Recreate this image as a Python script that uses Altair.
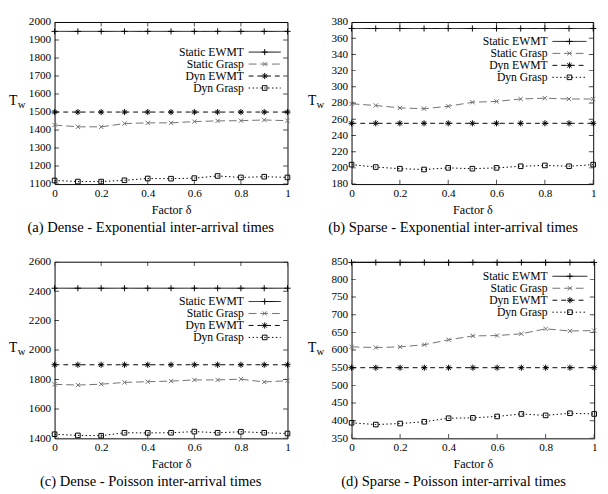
import altair as alt
import pandas as pd

FONT = "Liberation Serif"

delta = [0.0, 0.1, 0.2, 0.3, 0.4, 0.5, 0.6, 0.7, 0.8, 0.9, 1.0]
series = ["Static EWMT", "Static Grasp", "Dyn EWMT", "Dyn Grasp"]
x_ticks = [0, 0.2, 0.4, 0.6, 0.8, 1.0]

# (a) Dense - Exponential
a_static_ewmt = [1948, 1948, 1948, 1948, 1948, 1948, 1948, 1948, 1948, 1948, 1948]
a_static_grasp = [1428, 1418, 1418, 1436, 1440, 1440, 1447, 1451, 1452, 1456, 1452]
a_dyn_ewmt = [1500, 1500, 1500, 1500, 1500, 1500, 1500, 1500, 1500, 1500, 1500]
a_dyn_grasp = [1120, 1114, 1114, 1121, 1131, 1130, 1133, 1145, 1137, 1141, 1137]
a_yticks = [1100, 1200, 1300, 1400, 1500, 1600, 1700, 1800, 1900, 2000]

# (b) Sparse - Exponential
b_static_ewmt = [372, 372, 372, 372, 372, 372, 372, 372, 372, 372, 372]
b_static_grasp = [279, 277, 274, 273, 276, 281, 282, 285, 286, 285, 285]
b_dyn_ewmt = [255, 255, 255, 255, 255, 255, 255, 255, 255, 255, 255]
b_dyn_grasp = [204, 201, 199, 198, 200, 199, 200, 202, 203, 202, 204]
b_yticks = [180, 200, 220, 240, 260, 280, 300, 320, 340, 360, 380]

# (c) Dense - Poisson
c_static_ewmt = [2420, 2420, 2420, 2420, 2420, 2420, 2420, 2420, 2420, 2420, 2420]
c_static_grasp = [1767, 1762, 1768, 1780, 1785, 1789, 1797, 1797, 1802, 1783, 1792]
c_dyn_ewmt = [1900, 1900, 1900, 1900, 1900, 1900, 1900, 1900, 1900, 1900, 1900]
c_dyn_grasp = [1428, 1420, 1418, 1438, 1437, 1438, 1446, 1438, 1445, 1438, 1433]
c_yticks = [1400, 1600, 1800, 2000, 2200, 2400, 2600]

# (d) Sparse - Poisson
d_static_ewmt = [848, 848, 848, 848, 848, 848, 848, 848, 848, 848, 848]
d_static_grasp = [609, 607, 609, 615, 629, 640, 641, 646, 660, 654, 655]
d_dyn_ewmt = [550, 550, 550, 550, 550, 550, 550, 550, 550, 550, 550]
d_dyn_grasp = [394, 389, 392, 397, 407, 408, 412, 419, 415, 421, 419]
d_yticks = [350, 400, 450, 500, 550, 600, 650, 700, 750, 800, 850]

SHAPES = [
    "M-1,0L1,0M0,-1L0,1",
    "M-0.7,-0.7L0.7,0.7M-0.7,0.7L0.7,-0.7",
    "M-1,0L1,0M0,-1L0,1M-0.7,-0.7L0.7,0.7M-0.7,0.7L0.7,-0.7",
    "M-0.75,-0.75L0.75,-0.75L0.75,0.75L-0.75,0.75Z",
]
DASHES = [[1, 0], [8, 4], [5, 4], [1.5, 2.5]]
MSIZE = 40


def panel(values, ydom, yticks, W, H, tx, leg_top, leg_right, caption, grasp_color):
    rows = []
    for s, vals in zip(series, values):
        for d, v in zip(delta, vals):
            rows.append({"delta": d, "series": s, "value": v})
    df = pd.DataFrame(rows)

    color = alt.Color("series:N", scale=alt.Scale(domain=series, range=["black", grasp_color, "black", "black"]), legend=None)
    dash = alt.StrokeDash("series:N", scale=alt.Scale(domain=series, range=DASHES), legend=None)
    shape = alt.Shape("series:N", scale=alt.Scale(domain=series, range=SHAPES), legend=None)

    xdef = alt.X("delta:Q", scale=alt.Scale(domain=[0, 1], nice=False, zero=False),
                 axis=alt.Axis(values=x_ticks, format="~g", title="Factor δ", labelFont=FONT,
                               labelFontSize=11.5, labelPadding=4, ticks=False, tickSize=0,
                               domain=False, grid=False, labelFlush=False, labelColor="black",
                               titleFont=FONT, titleFontSize=12.5, titleFontWeight="normal",
                               titleColor="black", titlePadding=5))
    ydef = alt.Y("value:Q", scale=alt.Scale(domain=ydom, nice=False, zero=False),
                 axis=alt.Axis(values=yticks, format="d", title=None, labelFont=FONT, labelFontSize=11.5,
                               labelPadding=4, ticks=False, tickSize=0, domain=False, grid=False,
                               labelFlush=False, labelColor="black"))

    lines = alt.Chart(df).mark_line(strokeWidth=1, clip=True).encode(
        x=xdef, y=ydef, color=color, strokeDash=dash)
    pts = alt.Chart(df).mark_point(filled=False, strokeWidth=1, size=MSIZE, opacity=1).encode(
        x=xdef, y=ydef, color=color, shape=shape)

    xt = pd.DataFrame({"delta": x_ticks})
    yt = pd.DataFrame({"value": yticks})
    tick_style = dict(clip=True, size=9, thickness=1, color="black")
    xt_bot = alt.Chart(xt).mark_tick(orient="vertical", **tick_style).encode(x=xdef, y=alt.value(H))
    xt_top = alt.Chart(xt).mark_tick(orient="vertical", **tick_style).encode(x=xdef, y=alt.value(0))
    yt_l = alt.Chart(yt).mark_tick(orient="horizontal", **tick_style).encode(y=ydef, x=alt.value(0))
    yt_r = alt.Chart(yt).mark_tick(orient="horizontal", **tick_style).encode(y=ydef, x=alt.value(W))

    t_df = pd.DataFrame({"t": ["T"]})
    w_df = pd.DataFrame({"t": ["w"]})
    t_txt = alt.Chart(t_df).mark_text(font=FONT, fontSize=14, align="left", baseline="alphabetic",
                                      color="black").encode(
        text="t:N", x=alt.value(-tx), y=alt.value(H / 2 + 2))
    w_txt = alt.Chart(w_df).mark_text(font=FONT, fontSize=11, align="left", baseline="alphabetic",
                                      color="black").encode(
        text="t:N", x=alt.value(-tx + 9), y=alt.value(H / 2 + 5))

    main = alt.layer(lines, pts, xt_bot, xt_top, yt_l, yt_r, t_txt, w_txt)

    leg_df = pd.DataFrame({"series": series})
    ly = alt.Y("series:N", sort=series,
               scale=alt.Scale(type="point", domain=series, range=[leg_top, leg_top + 37], padding=0),
               axis=None)
    leg_text = alt.Chart(leg_df).mark_text(font=FONT, fontSize=12, align="right", baseline="middle",
                                           color="black").encode(
        text="series:N", x=alt.value(W - leg_right), y=ly)
    leg_rule = alt.Chart(leg_df).mark_rule(strokeWidth=1).encode(
        x=alt.value(W - leg_right + 5), x2=alt.value(W - 7), y=ly, color=color, strokeDash=dash)
    leg_pt = alt.Chart(leg_df).mark_point(filled=False, strokeWidth=1, size=MSIZE, opacity=1).encode(
        x=alt.value(W - (leg_right + 2) / 2), y=ly, color=color, shape=shape)
    legend = alt.layer(leg_text, leg_rule, leg_pt)

    return alt.layer(main, legend).resolve_scale(y="independent").properties(
        width=W, height=H,
        title=alt.TitleParams(caption, orient="bottom", anchor="middle", frame="bounds", font=FONT,
                              fontSize=15, fontWeight="normal", offset=4, color="black"))


H1 = 167
H2 = 182
pa = panel([a_static_ewmt, a_static_grasp, a_dyn_ewmt, a_dyn_grasp], [1100, 2000], a_yticks,
           240, H1, 47, 31, 45, "(a)  Dense - Exponential inter-arrival times", "#707070")
pb = panel([b_static_ewmt, b_static_grasp, b_dyn_ewmt, b_dyn_grasp], [180, 380], b_yticks,
           249, H1, 45, 20, 47, "(b)  Sparse - Exponential inter-arrival times", "#707070")
pc = panel([c_static_ewmt, c_static_grasp, c_dyn_ewmt, c_dyn_grasp], [1400, 2600], c_yticks,
           240, H2, 47, 41, 45, "(c)  Dense - Poisson inter-arrival times", "#707070")
pd_ = panel([d_static_ewmt, d_static_grasp, d_dyn_ewmt, d_dyn_grasp], [350, 850], d_yticks,
            250, H2, 45, 15, 48, "(d)  Sparse - Poisson inter-arrival times", "#444444")

chart = alt.vconcat(
    alt.hconcat(pa, pb, spacing=14),
    alt.hconcat(pc, pd_, spacing=14),
    spacing=20,
).properties(padding={"left": 0, "top": 0, "right": 0, "bottom": 0}).configure(
    background="white",
    font=FONT,
    view=alt.ViewConfig(stroke="black", strokeWidth=1),
    axis=alt.AxisConfig(labelFont=FONT, titleFont=FONT),
    text=alt.MarkConfig(font=FONT),
)

chart.save("out.html", embed_options={"renderer": "svg", "actions": False})
